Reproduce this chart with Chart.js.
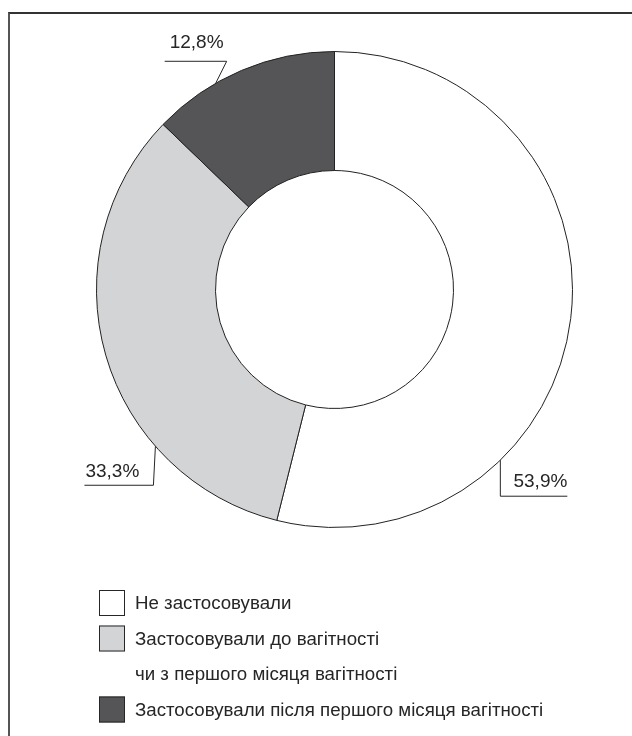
<!DOCTYPE html>
<html lang="uk">
<head>
<meta charset="utf-8">
<title>Застосування</title>
<script src="https://cdn.jsdelivr.net/npm/chart.js@4/dist/chart.umd.min.js"></script>
<style>
  html, body { margin: 0; padding: 0; background: #fff; }
  #wrap { position: relative; width: 632px; height: 736px; overflow: hidden; }
  #frame { position: absolute; left: 8px; top: 12px; width: 700px; height: 800px;
           border-left: 2px solid #555; border-top: 2px solid #333; }
  #chart { position: absolute; left: 0; top: 0; }
</style>
</head>
<body>
<div id="wrap">
  <div id="frame"></div>
  <canvas id="chart" width="632" height="736"></canvas>
</div>
<script>
/* Частки жінок за застосуванням (кільцева діаграма) */
var CATEGORIES = [
  'Не застосовували',
  'Застосовували до вагітності\nчи з першого місяця вагітності',
  'Застосовували після першого місяця вагітності'
];
var VALUES = [53.9, 33.3, 12.8];
var VALUE_LABELS = ['53,9%', '33,3%', '12,8%'];
var COLORS = ['#ffffff', '#d3d4d6', '#555557'];

var INK = '#262626';
var FONT = '"Liberation Sans", Arial, sans-serif';

/* where each leader line touches the ring: fraction along the arc,
   elbow offset from that point, length of the shelf under the text */
var LEADERS = [
  { frac: 0.70, ex: 0,   ey: 36,  shelf: 67,  side: 'right' },
  { frac: 0.29, ex: -2,  ey: 39,  shelf: -69, side: 'left' },
  { frac: 0.35, ex: 11,  ey: -22, shelf: -62, side: 'leftTop' }
];

var leaderPlugin = {
  id: 'leaders',
  afterDatasetsDraw: function (chart) {
    var ctx = chart.ctx;
    var arcs = chart.getDatasetMeta(0).data;
    ctx.save();
    ctx.strokeStyle = INK;
    ctx.lineWidth = 1;
    ctx.fillStyle = INK;
    ctx.font = '19px ' + FONT;
    arcs.forEach(function (arc, i) {
      var L = LEADERS[i];
      var a = arc.startAngle + (arc.endAngle - arc.startAngle) * L.frac;
      var px = arc.x + Math.cos(a) * arc.outerRadius;
      var py = arc.y + Math.sin(a) * arc.outerRadius;
      var qx = px + L.ex, qy = py + L.ey;
      var rx = qx + L.shelf;
      ctx.beginPath();
      ctx.moveTo(px, py);
      ctx.lineTo(qx, qy);
      ctx.lineTo(rx, qy);
      ctx.stroke();
      ctx.textBaseline = 'alphabetic';
      if (L.side === 'right') {
        ctx.textAlign = 'right';
        ctx.fillText(VALUE_LABELS[i], rx, qy - 9);
      } else if (L.side === 'left') {
        ctx.textAlign = 'left';
        ctx.fillText(VALUE_LABELS[i], rx + 1, qy - 8);
      } else {
        ctx.textAlign = 'left';
        ctx.fillText(VALUE_LABELS[i], rx + 5, qy - 13);
      }
    });
    ctx.restore();
  }
};

/* legend under the ring, one box per slice, labels may wrap */
var legendPlugin = {
  id: 'boxLegend',
  afterDraw: function (chart) {
    var ctx = chart.ctx;
    var boxX = 99, boxS = 26, textX = 135, lineH = 35.5;
    var y = 603;
    ctx.save();
    ctx.font = '18.7px ' + FONT;
    ctx.textBaseline = 'middle';
    ctx.textAlign = 'left';
    CATEGORIES.forEach(function (label, i) {
      ctx.fillStyle = COLORS[i];
      ctx.fillRect(boxX, y - boxS / 2, boxS, boxS);
      ctx.strokeStyle = INK;
      ctx.lineWidth = 1;
      ctx.strokeRect(boxX + 0.5, y - boxS / 2 + 0.5, boxS - 1, boxS - 1);
      ctx.fillStyle = INK;
      label.split('\n').forEach(function (line) {
        ctx.fillText(line, textX, y + 1);
        y += lineH;
      });
    });
    ctx.restore();
  }
};

new Chart(document.getElementById('chart'), {
  type: 'doughnut',
  data: {
    labels: CATEGORIES,
    datasets: [{
      data: VALUES,
      backgroundColor: COLORS,
      borderColor: '#222',
      borderWidth: 1,
      borderAlign: 'center'
    }]
  },
  options: {
    responsive: false,
    animation: false,
    cutout: '50%',
    layout: { padding: { left: 96, top: 51, right: 59, bottom: 208 } },
    plugins: { legend: { display: false }, tooltip: { enabled: false } }
  },
  plugins: [leaderPlugin, legendPlugin]
});
</script>
</body>
</html>
